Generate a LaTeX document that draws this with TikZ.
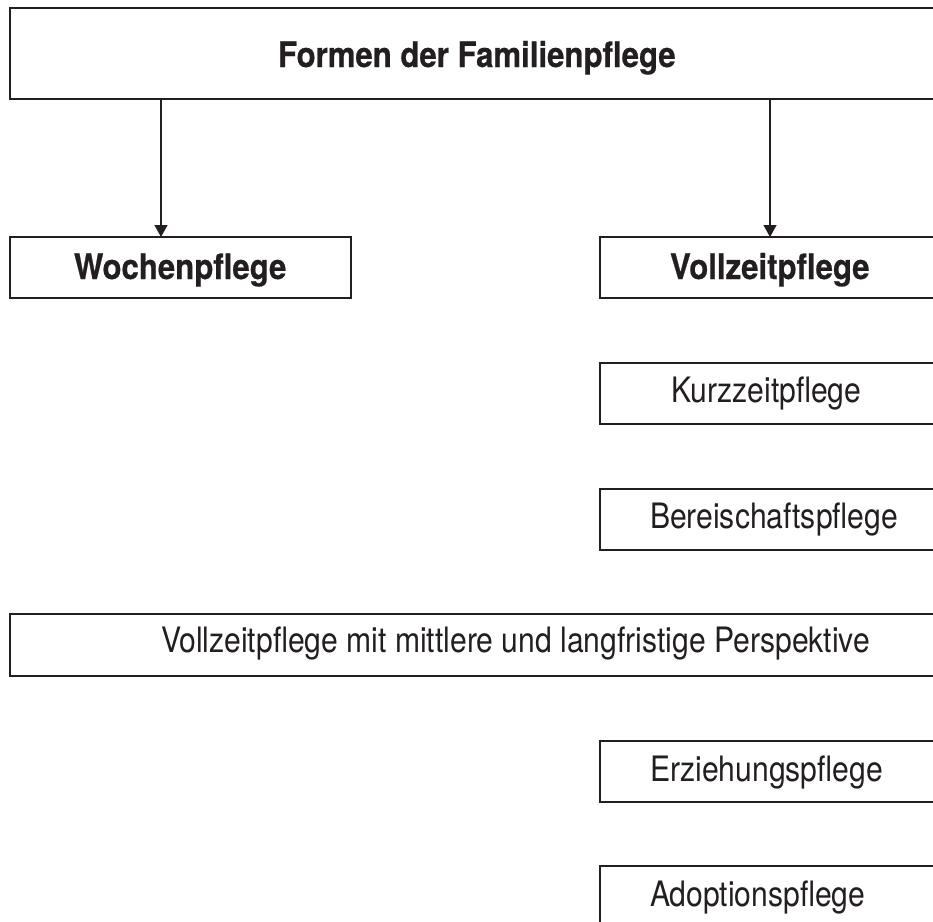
\documentclass[tikz,border=0pt]{standalone}
\usepackage{fontspec}
\setmainfont{TeX Gyre Heros}[FakeStretch=0.86]
\newfontfamily\heavyfont{TeX Gyre Heros}[FakeStretch=0.89, BoldFeatures={FakeBold=0.6}]
\usetikzlibrary{arrows.meta}
\definecolor{ink}{HTML}{231F20}
\tikzset{
  box/.style={draw=ink, line width=2pt, rectangle, anchor=north west, inner sep=0pt, outer sep=0pt},
  lbl/.style={anchor=base west, inner sep=0pt, outer sep=0pt, text=ink, font=\fontsize{35}{42}\selectfont},
  blbl/.style={lbl, font=\fontsize{35}{42}\heavyfont\bfseries},
  arr/.style={draw=ink, line width=1.4pt, -{Triangle[length=12pt,width=13pt]}}
}
\begin{document}
\begin{tikzpicture}[x=1pt,y=-1pt]
\useasboundingbox (0,0) rectangle (933,921);
\clip (0,0) rectangle (933,921);
\fill[white] (0,0) rectangle (933,921);
% boxes
\node[box, minimum width=932pt, minimum height=91pt] (top) at (10,8) {};
\node[box, minimum width=341pt, minimum height=61pt] (woch) at (10,237) {};
\node[box, minimum width=341pt, minimum height=61pt] (voll) at (600,237) {};
\node[box, minimum width=341pt, minimum height=61pt] (kurz) at (600,363) {};
\node[box, minimum width=341pt, minimum height=61pt] (bereit) at (600,489) {};
\node[box, minimum width=932pt, minimum height=62pt] (mittel) at (10,614) {};
\node[box, minimum width=341pt, minimum height=61pt] (erz) at (600,741) {};
\node[box, minimum width=341pt, minimum height=61pt] (adopt) at (600,866) {};
% labels
\node[blbl] (ttop) at (278,67) {Formen der Familienpflege};
\node[blbl] (twoch) at (74,279) {Wochenpflege};
\node[blbl] (tvoll) at (670,279) {Vollzeitpflege};
\node[lbl] (tkurz) at (671,402) {Kurzzeitpflege};
\node[lbl] (tbereit) at (650,528) {Bereischaftspflege};
\node[lbl] (tmittel) at (161,652) {Vollzeitpflege mit mittlere und langfristige Perspektive};
\node[lbl] (terz) at (650,781) {Erziehungspflege};
\node[lbl] (tadopt) at (650,906) {Adoptionspflege};
% connectors
\coordinate (la) at (161,0);
\coordinate (ra) at (770,0);
\draw[arr] (top.south -| la) -- (woch.north -| la);
\draw[arr] (top.south -| ra) -- (voll.north -| ra);
\end{tikzpicture}
\end{document}
